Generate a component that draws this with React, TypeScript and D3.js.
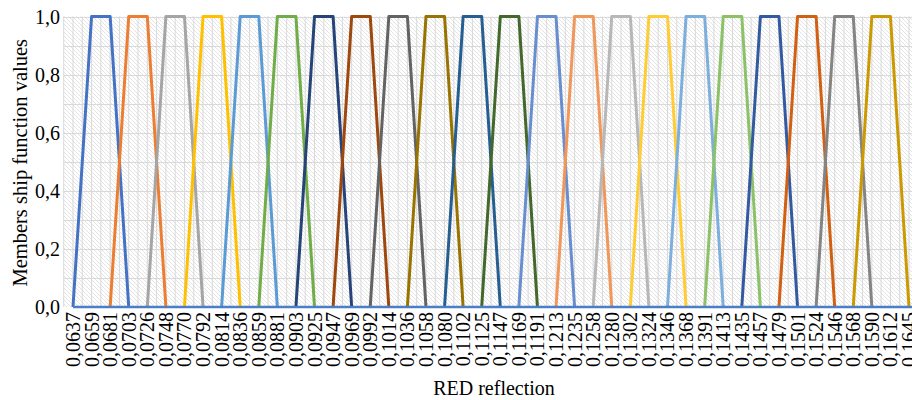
import React from "react";
import * as d3 from "d3";

// RED reflection categories (x axis)
const categories = [
  "0,0637", "0,0659", "0,0681", "0,0703", "0,0726", "0,0748", "0,0770", "0,0792",
  "0,0814", "0,0836", "0,0859", "0,0881", "0,0903", "0,0925", "0,0947", "0,0969",
  "0,0992", "0,1014", "0,1036", "0,1058", "0,1080", "0,1102", "0,1125", "0,1147",
  "0,1169", "0,1191", "0,1213", "0,1235", "0,1258", "0,1280", "0,1302", "0,1324",
  "0,1346", "0,1368", "0,1391", "0,1413", "0,1435", "0,1457", "0,1479", "0,1501",
  "0,1524", "0,1546", "0,1568", "0,1590", "0,1612", "0,1645",
];

// each membership function: its four corner categories
const seriesCorners = [
  ["0,0637", "0,0659", "0,0681", "0,0703"],
  ["0,0681", "0,0703", "0,0726", "0,0748"],
  ["0,0726", "0,0748", "0,0770", "0,0792"],
  ["0,0770", "0,0792", "0,0814", "0,0836"],
  ["0,0814", "0,0836", "0,0859", "0,0881"],
  ["0,0859", "0,0881", "0,0903", "0,0925"],
  ["0,0903", "0,0925", "0,0947", "0,0969"],
  ["0,0947", "0,0969", "0,0992", "0,1014"],
  ["0,0992", "0,1014", "0,1036", "0,1058"],
  ["0,1036", "0,1058", "0,1080", "0,1102"],
  ["0,1080", "0,1102", "0,1125", "0,1147"],
  ["0,1125", "0,1147", "0,1169", "0,1191"],
  ["0,1169", "0,1191", "0,1213", "0,1235"],
  ["0,1213", "0,1235", "0,1258", "0,1280"],
  ["0,1258", "0,1280", "0,1302", "0,1324"],
  ["0,1302", "0,1324", "0,1346", "0,1368"],
  ["0,1346", "0,1368", "0,1391", "0,1413"],
  ["0,1391", "0,1413", "0,1435", "0,1457"],
  ["0,1435", "0,1457", "0,1479", "0,1501"],
  ["0,1479", "0,1501", "0,1524", "0,1546"],
  ["0,1524", "0,1546", "0,1568", "0,1590"],
  ["0,1568", "0,1590", "0,1612", "0,1645"],
];
const seriesValues = [0, 1, 1, 0];

const colors = [
  "#4472C4", "#ED7D31", "#A5A5A5", "#FFC000", "#5B9BD5", "#70AD47",
  "#264478", "#9E480E", "#636363", "#997300", "#255E91", "#43682B",
  "#698ED0", "#F1975A", "#B7B7B7", "#FFCD33", "#7CAFDD", "#8CC168",
  "#335AA1", "#D26012", "#848484", "#CC9A00",
];

const yTicks = [0, 0.2, 0.4, 0.6, 0.8, 1.0];
const yMinor = [0.1, 0.2, 0.3, 0.4, 0.5, 0.6, 0.7, 0.8, 0.9, 1.0];

const W = 912;
const H = 400;

export default function App() {
  const x = d3.scalePoint<string>().domain(categories).range([73, 909]);
  const step = x.step();
  const y = d3.scaleLinear().domain([0, 1]).range([307, 16.5]);
  const left = x(categories[0])! - step / 2;
  const right = x(categories[categories.length - 1])! + step / 2;
  const fmt = (v: number) => d3.format(".1f")(v).replace(".", ",");

  const line = d3
    .line<[string, number]>()
    .x(d => x(d[0])!)
    .y(d => y(d[1]));

  return (
    <svg width={W} height={H} style={{ position: "absolute", left: 0, top: 0, background: "#fff" }}>
      <defs>
        <pattern id="hatch" width="4" height="4" patternUnits="userSpaceOnUse">
          <rect width="4" height="4" fill="#fff" />
          <path d="M-1,-1 L5,5 M-1,3 L1,5 M3,-1 L5,1" stroke="#e3e3e3" strokeWidth="1" />
        </pattern>
        <clipPath id="plot">
          <rect x={left} y={0} width={right - left} height={H} />
        </clipPath>
      </defs>
      <rect x={left} y={y(1)} width={right - left} height={y(0) - y(1)} fill="url(#hatch)" />
      <g stroke="#d9d9d9" strokeWidth={1}>
        {yMinor.map(v => (
          <line key={v} x1={left} x2={right} y1={Math.round(y(v)) + 0.5} y2={Math.round(y(v)) + 0.5} />
        ))}
        {categories.map(c => (
          <line key={c} x1={x(c)!} x2={x(c)!} y1={y(1)} y2={y(0)} />
        ))}
        {categories.map(c => (
          <line key={"b" + c} x1={x(c)! - step / 2} x2={x(c)! - step / 2} y1={y(1)} y2={y(0)} />
        ))}
      </g>
      <g clipPath="url(#plot)" fill="none" strokeWidth={3} strokeLinejoin="round">
        {seriesCorners.map((corners, i) => (
          <path
            key={i}
            d={line(corners.map((c, j) => [c, seriesValues[j]] as [string, number]))!}
            stroke={colors[i]}
          />
        ))}
      </g>
      <line x1={x(categories[0])!} x2={right} y1={y(0)} y2={y(0)} stroke="#4a7fc7" strokeWidth={2.5} />
      <g style={{ fontFamily: "'Times New Roman', 'Liberation Serif', 'DejaVu Serif', serif" }} fontSize={20} fill="#000">
        {yTicks.map(v => (
          <text key={v} x={60} y={y(v)} dy="0.35em" textAnchor="end">{fmt(v)}</text>
        ))}
        {categories.map(c => (
          <text
            key={c}
            transform={`translate(${x(c)!},312) rotate(-90)`}
            textAnchor="end"
            dy="0.35em"
          >
            {c}
          </text>
        ))}
        <text
          transform={`translate(20,${(y(0) + y(1)) / 2 + 1}) rotate(-90)`}
          textAnchor="middle"
          dy="0.35em"
          fontSize={20.5}
        >
          Members ship function values
        </text>
        <text x={494} y={395} textAnchor="middle">RED reflection</text>
      </g>
    </svg>
  );
}
